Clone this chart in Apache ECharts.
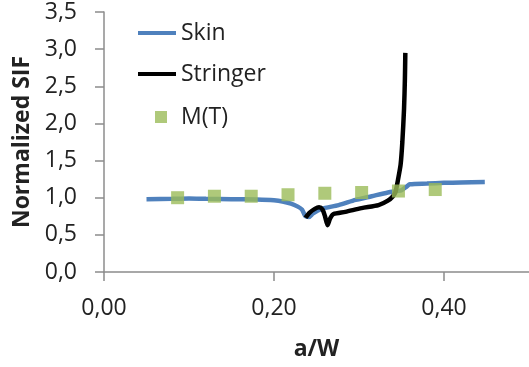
<!DOCTYPE html>
<html>
<head>
<meta charset="utf-8">
<script src="https://cdn.jsdelivr.net/npm/echarts@6/dist/echarts.min.js"></script>
<style>
html,body{margin:0;padding:0;background:#fff;}
#chart{width:529px;height:367px;}
</style>
</head>
<body>
<div id="chart"></div>
<script>
// Skin curve
const skinX = [0.05, 0.08, 0.10, 0.12, 0.15, 0.18, 0.20, 0.21, 0.22, 0.228, 0.233, 0.237, 0.241, 0.246, 0.256, 0.276, 0.296, 0.315, 0.334, 0.345, 0.350, 0.356, 0.360, 0.38, 0.40, 0.42, 0.448];
const skinY = [0.98, 0.985, 0.99, 0.985, 0.98, 0.975, 0.965, 0.95, 0.92, 0.88, 0.84, 0.75, 0.74, 0.79, 0.85, 0.90, 0.97, 1.02, 1.07, 1.09, 1.10, 1.15, 1.18, 1.19, 1.20, 1.205, 1.21];
// Stringer curve
const stringerX = [0.237, 0.242, 0.248, 0.253, 0.257, 0.260, 0.263, 0.266, 0.270, 0.284, 0.303, 0.323, 0.334, 0.340, 0.343, 0.346, 0.349, 0.351, 0.353, 0.354, 0.3545];
const stringerY = [0.73, 0.80, 0.85, 0.87, 0.84, 0.75, 0.63, 0.72, 0.78, 0.81, 0.86, 0.90, 0.96, 1.02, 1.08, 1.25, 1.45, 1.75, 2.20, 2.60, 2.95];
// M(T) points
const mtX = [0.0866, 0.1299, 0.1732, 0.2165, 0.2598, 0.3031, 0.3464, 0.3897];
const mtY = [1.00, 1.02, 1.02, 1.04, 1.06, 1.07, 1.09, 1.11];
// Axis ticks
const xTicks = [0, 0.2, 0.4];
const yTicks = [0, 0.5, 1.0, 1.5, 2.0, 2.5, 3.0, 3.5];

const zip = (xs, ys) => xs.map((x, i) => [x, ys[i]]);
const FONT = 'Open Sans';
const TXT = '#222';
const AX = '#8c8c8c';

const chart = echarts.init(document.getElementById('chart'));
chart.setOption({
  animation: false,
  backgroundColor: '#fff',
  grid: {left: 104, top: 12, width: 427, height: 260},
  xAxis: {
    type: 'value', min: 0, max: 0.5, interval: 0.2,
    name: 'a/W', nameLocation: 'middle', nameGap: 66,
    nameTextStyle: {fontFamily: FONT, fontSize: 23, fontWeight: 'bold', color: TXT},
    axisLine: {show: true, lineStyle: {color: AX, width: 1.5}},
    axisTick: {show: true, length: 9, lineStyle: {color: AX, width: 1.5}},
    splitLine: {show: false},
    axisLabel: {
      margin: 25, fontFamily: FONT, fontSize: 23, color: TXT, showMaxLabel: false,
      formatter: v => xTicks.some(t => Math.abs(t - v) < 1e-9) ? v.toFixed(2).replace('.', ',') : ''
    }
  },
  yAxis: {
    type: 'value', min: 0, max: 3.5, interval: 0.5,
    name: 'Normalized SIF', nameLocation: 'middle', nameGap: 64,
    nameTextStyle: {fontFamily: FONT, fontSize: 23, fontWeight: 'bold', color: TXT},
    axisLine: {show: true, lineStyle: {color: AX, width: 1.5}},
    axisTick: {show: true, length: 9, lineStyle: {color: AX, width: 1.5}},
    splitLine: {show: false},
    axisLabel: {
      margin: 27, fontFamily: FONT, fontSize: 23, color: TXT,
      formatter: v => v.toFixed(1).replace('.', ',')
    }
  },
  legend: [
    {
      data: [{name: 'Skin', icon: 'rect'}, {name: 'Stringer', icon: 'rect'}],
      orient: 'vertical', left: 133, top: 16, itemWidth: 38, itemHeight: 4, itemGap: 17,
      textStyle: {fontFamily: FONT, fontSize: 23, color: TXT, lineHeight: 24}
    },
    {
      data: [{name: 'M(T)', icon: 'rect'}],
      orient: 'vertical', left: 150, top: 100, itemWidth: 12, itemHeight: 12,
      textStyle: {fontFamily: FONT, fontSize: 23, color: TXT, lineHeight: 24, padding: [0, 0, 0, 9]}
    }
  ],
  series: [
    {
      name: 'Skin', type: 'line', data: zip(skinX, skinY), showSymbol: false, symbol: 'none',
      smooth: 0.25, lineStyle: {color: '#4F81BD', width: 4.5}, itemStyle: {color: '#4F81BD'}, z: 2
    },
    {
      name: 'Stringer', type: 'line', data: zip(stringerX, stringerY), showSymbol: false, symbol: 'none',
      smooth: 0.25, lineStyle: {color: '#000', width: 4.5}, itemStyle: {color: '#000'}, z: 3
    },
    {
      name: 'M(T)', type: 'scatter', data: zip(mtX, mtY), symbol: 'rect', symbolSize: 13,
      itemStyle: {color: '#9BBB59'}, z: 4
    }
  ]
});
</script>
</body>
</html>
